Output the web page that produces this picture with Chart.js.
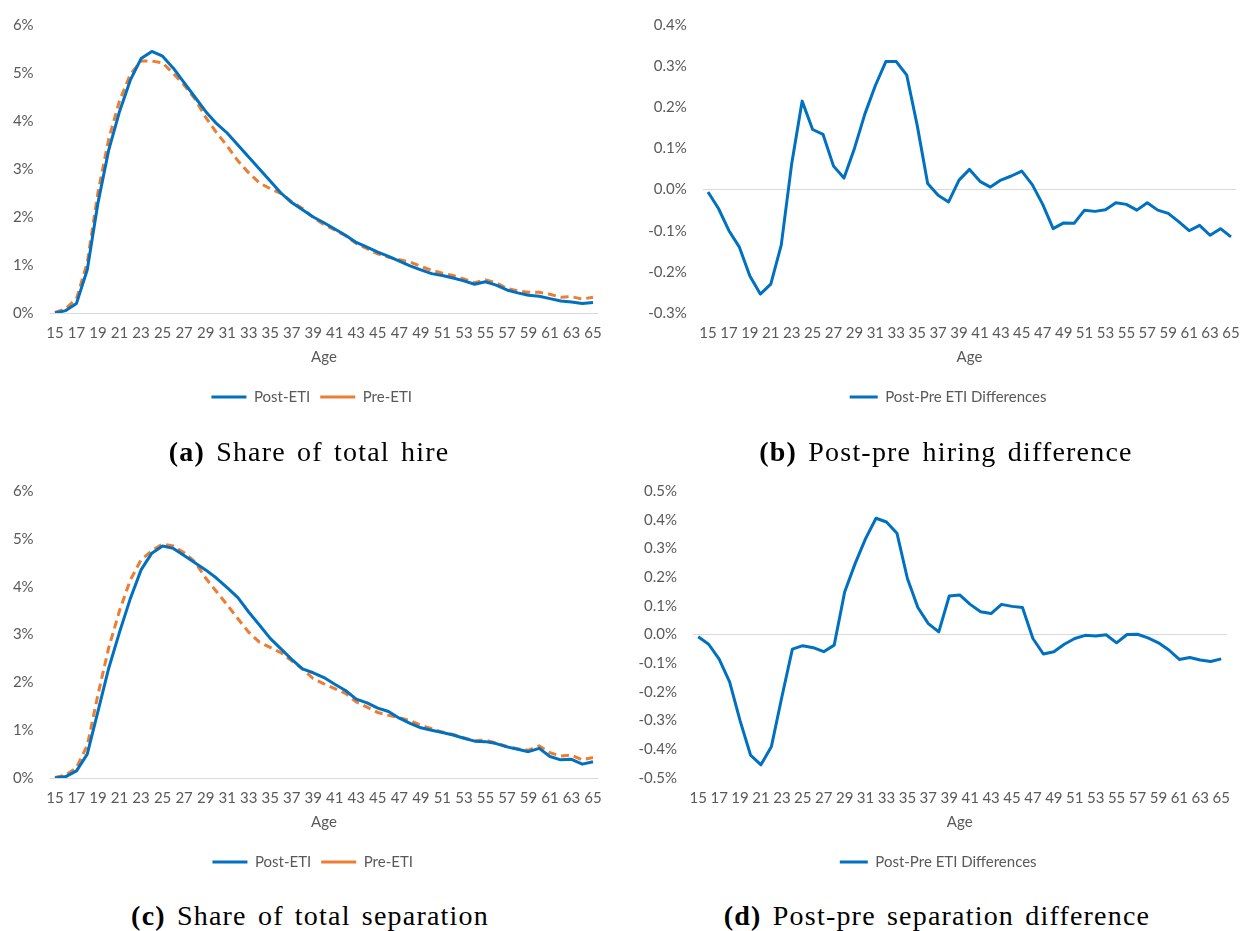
<!DOCTYPE html>
<html>
<head>
<meta charset="utf-8">
<script src="https://cdn.jsdelivr.net/npm/chart.js@4.4.1/dist/chart.umd.min.js"></script>
<style>
  html, body { margin: 0; padding: 0; background: #ffffff; }
  body { width: 1241px; height: 931px; position: relative; overflow: hidden; }
  .panel { position: absolute; }
  .caption {
    position: absolute; transform: translate(-50%, -50%);
    font-family: "Liberation Serif", "DejaVu Serif", serif; font-size: 28px;
    letter-spacing: 1.2px; word-spacing: 3px;
    color: #000; white-space: nowrap;
  }
  .caption b { font-weight: bold; }
</style>
</head>
<body>
<div class="panel" style="left:0;top:0;width:620px;height:420px"><canvas id="chartA"></canvas></div>
<div class="panel" style="left:620px;top:0;width:640px;height:420px"><canvas id="chartB"></canvas></div>
<div class="panel" style="left:0;top:465px;width:620px;height:420px"><canvas id="chartC"></canvas></div>
<div class="panel" style="left:620px;top:465px;width:640px;height:420px"><canvas id="chartD"></canvas></div>

<div class="caption" style="left:309px;top:452px"><b>(a)</b> Share of total hire</div>
<div class="caption" style="left:946px;top:452px"><b>(b)</b> Post-pre hiring difference</div>
<div class="caption" style="left:310px;top:916px"><b>(c)</b> Share of total separation</div>
<div class="caption" style="left:937px;top:916px"><b>(d)</b> Post-pre separation difference</div>

<script>
// Age categories (x axis)
const ages = ['15','16','17','18','19','20','21','22','23','24','25','26','27','28','29','30',
  '31','32','33','34','35','36','37','38','39','40','41','42','43','44','45','46','47','48',
  '49','50','51','52','53','54','55','56','57','58','59','60','61','62','63','64','65'];

// Share of total hire by age, in percent
const hirePost = [0.00,0.05,0.20,0.90,2.30,3.40,4.20,4.85,5.30,5.45,5.35,5.10,4.80,4.50,4.20,3.95,
  3.75,3.50,3.25,3.00,2.75,2.50,2.30,2.15,2.00,1.88,1.75,1.62,1.47,1.37,1.27,1.18,1.08,0.98,
  0.90,0.82,0.78,0.73,0.67,0.60,0.65,0.58,0.48,0.42,0.37,0.35,0.30,0.25,0.23,0.20,0.22];
const hirePre = [0.01,0.09,0.30,1.05,2.52,3.63,4.42,4.97,5.25,5.25,5.21,4.99,4.75,4.46,4.08,3.76,
  3.48,3.17,2.92,2.71,2.59,2.49,2.32,2.18,1.99,1.84,1.73,1.61,1.45,1.34,1.23,1.16,1.11,1.06,
  0.97,0.89,0.83,0.78,0.71,0.63,0.69,0.63,0.51,0.46,0.43,0.43,0.39,0.33,0.34,0.29,0.33];

// Post minus pre hiring share, in percentage points
const hireDiff = [-0.006,-0.046,-0.100,-0.140,-0.210,-0.254,-0.230,-0.135,0.063,0.215,0.146,0.134,
  0.057,0.028,0.100,0.184,0.253,0.311,0.311,0.278,0.156,0.015,-0.014,-0.030,0.023,0.049,0.020,
  0.006,0.023,0.033,0.045,0.012,-0.036,-0.095,-0.081,-0.082,-0.050,-0.053,-0.049,-0.032,-0.036,
  -0.050,-0.032,-0.050,-0.058,-0.078,-0.100,-0.087,-0.111,-0.095,-0.115];

// Share of total separation by age, in percent
const sepPost = [0.00,0.03,0.15,0.50,1.40,2.30,3.05,3.75,4.35,4.70,4.85,4.80,4.65,4.50,4.35,4.18,
  3.98,3.77,3.47,3.20,2.92,2.70,2.48,2.28,2.20,2.10,1.96,1.83,1.65,1.57,1.46,1.39,1.25,1.14,
  1.05,1.00,0.95,0.90,0.83,0.77,0.76,0.72,0.65,0.60,0.55,0.62,0.45,0.38,0.39,0.29,0.34];
const sepPre = [0.01,0.06,0.22,0.68,1.75,2.73,3.50,4.14,4.56,4.75,4.89,4.85,4.71,4.52,4.18,3.90,
  3.62,3.33,3.05,2.84,2.73,2.62,2.45,2.28,2.08,1.97,1.87,1.77,1.59,1.48,1.37,1.31,1.26,1.20,
  1.10,1.03,0.96,0.91,0.84,0.78,0.79,0.73,0.66,0.61,0.58,0.67,0.53,0.46,0.48,0.38,0.43];

// Post minus pre separation share, in percentage points
const sepDiff = [-0.008,-0.034,-0.086,-0.165,-0.300,-0.420,-0.454,-0.390,-0.217,-0.051,-0.039,
  -0.046,-0.060,-0.037,0.148,0.247,0.334,0.405,0.392,0.353,0.195,0.094,0.038,0.009,0.134,0.138,
  0.105,0.079,0.073,0.105,0.098,0.094,-0.014,-0.068,-0.060,-0.034,-0.014,-0.003,-0.005,-0.001,
  -0.029,0.000,0.001,-0.012,-0.029,-0.054,-0.087,-0.080,-0.089,-0.094,-0.085];

const BLUE = '#0070C0';
const ORANGE = '#ED7D31';
const TEXT = '#595959';
const FONT = { family: 'Lato, "Open Sans", sans-serif', size: 15 };

function postLine(label, data) {
  return { label, data, borderColor: BLUE, backgroundColor: BLUE, borderWidth: 3,
           pointRadius: 0, tension: 0, borderJoinStyle: 'round' };
}
function preLine(label, data) {
  return { label, data, borderColor: ORANGE, backgroundColor: ORANGE, borderWidth: 3,
           borderDash: [8, 5], pointRadius: 0, tension: 0 };
}

// Moves the legend sideways so it is centred under the whole panel, labels included
const legendShift = {
  id: 'legendShift',
  afterLayout(chart, args, opts) {
    const lg = chart.legend;
    if (lg && opts.dx) { lg.left += opts.dx; lg.right += opts.dx; }
  }
};

function makeChart(id, cfg) {
  const el = document.getElementById(id);
  const box = el.parentNode;
  el.width = box.clientWidth; el.height = box.clientHeight;
  return new Chart(el, {
    type: 'line',
    data: { labels: ages, datasets: cfg.datasets },
    plugins: [legendShift],
    options: {
      responsive: false, animation: false, devicePixelRatio: 1,
      layout: { padding: { left: 0, right: cfg.padRight, top: cfg.padTop, bottom: 5.5 } },
      plugins: {
        tooltip: { enabled: false },
        legendShift: { dx: cfg.legendDx },
        legend: {
          position: 'bottom',
          labels: { usePointStyle: true, pointStyle: 'line', pointStyleWidth: cfg.legendLine,
                    color: TEXT, font: FONT, padding: 10 }
        }
      },
      scales: {
        x: {
          type: 'category', offset: true,
          grid: { display: false, drawTicks: true, tickLength: 11 },
          border: { display: false },
          ticks: { autoSkip: false, maxRotation: 0, minRotation: 0, padding: 0,
                   color: TEXT, font: FONT,
                   callback: (v, i) => (i % 2 === 0 ? ages[i] : '') },
          title: { display: true, text: 'Age', color: TEXT, font: FONT,
                   padding: { top: 6, bottom: 13.5 } }
        },
        y: {
          min: cfg.min, max: cfg.max,
          afterFit: (s) => { s.width = cfg.axisWidth; },
          border: { display: false },
          grid: { drawTicks: false, lineWidth: 1,
                  color: (c) => (Math.abs(c.tick.value) < 1e-9 ? '#d9d9d9' : 'rgba(0,0,0,0)') },
          ticks: { stepSize: cfg.step, padding: 16, color: TEXT, font: FONT,
                   callback: (v) => cfg.fmt(v) }
        }
      }
    }
  });
}

const pct0 = (v) => Math.round(v) + '%';
const pct1 = (v) => (Math.abs(v) < 1e-9 ? 0 : v).toFixed(1) + '%';

makeChart('chartA', { datasets: [postLine('Post-ETI', hirePost), preLine('Pre-ETI', hirePre)],
  min: 0, max: 6, step: 1, fmt: pct0, axisWidth: 49.6, padRight: 21.6, padTop: 25,
  legendLine: 35, legendDx: 12.5 });
makeChart('chartB', { datasets: [postLine('Post-Pre ETI Differences', hireDiff)],
  min: -0.3, max: 0.4, step: 0.1, fmt: pct1, axisWidth: 82.8, padRight: 23.8, padTop: 25,
  legendLine: 28, legendDx: 20 });
makeChart('chartC', { datasets: [postLine('Post-ETI', sepPost), preLine('Pre-ETI', sepPre)],
  min: 0, max: 6, step: 1, fmt: pct0, axisWidth: 49.6, padRight: 21.6, padTop: 26,
  legendLine: 35, legendDx: 13.5 });
makeChart('chartD', { datasets: [postLine('Post-Pre ETI Differences', sepDiff)],
  min: -0.5, max: 0.5, step: 0.1, fmt: pct1, axisWidth: 73, padRight: 33.6, padTop: 26,
  legendLine: 28, legendDx: 15 });
</script>
</body>
</html>
